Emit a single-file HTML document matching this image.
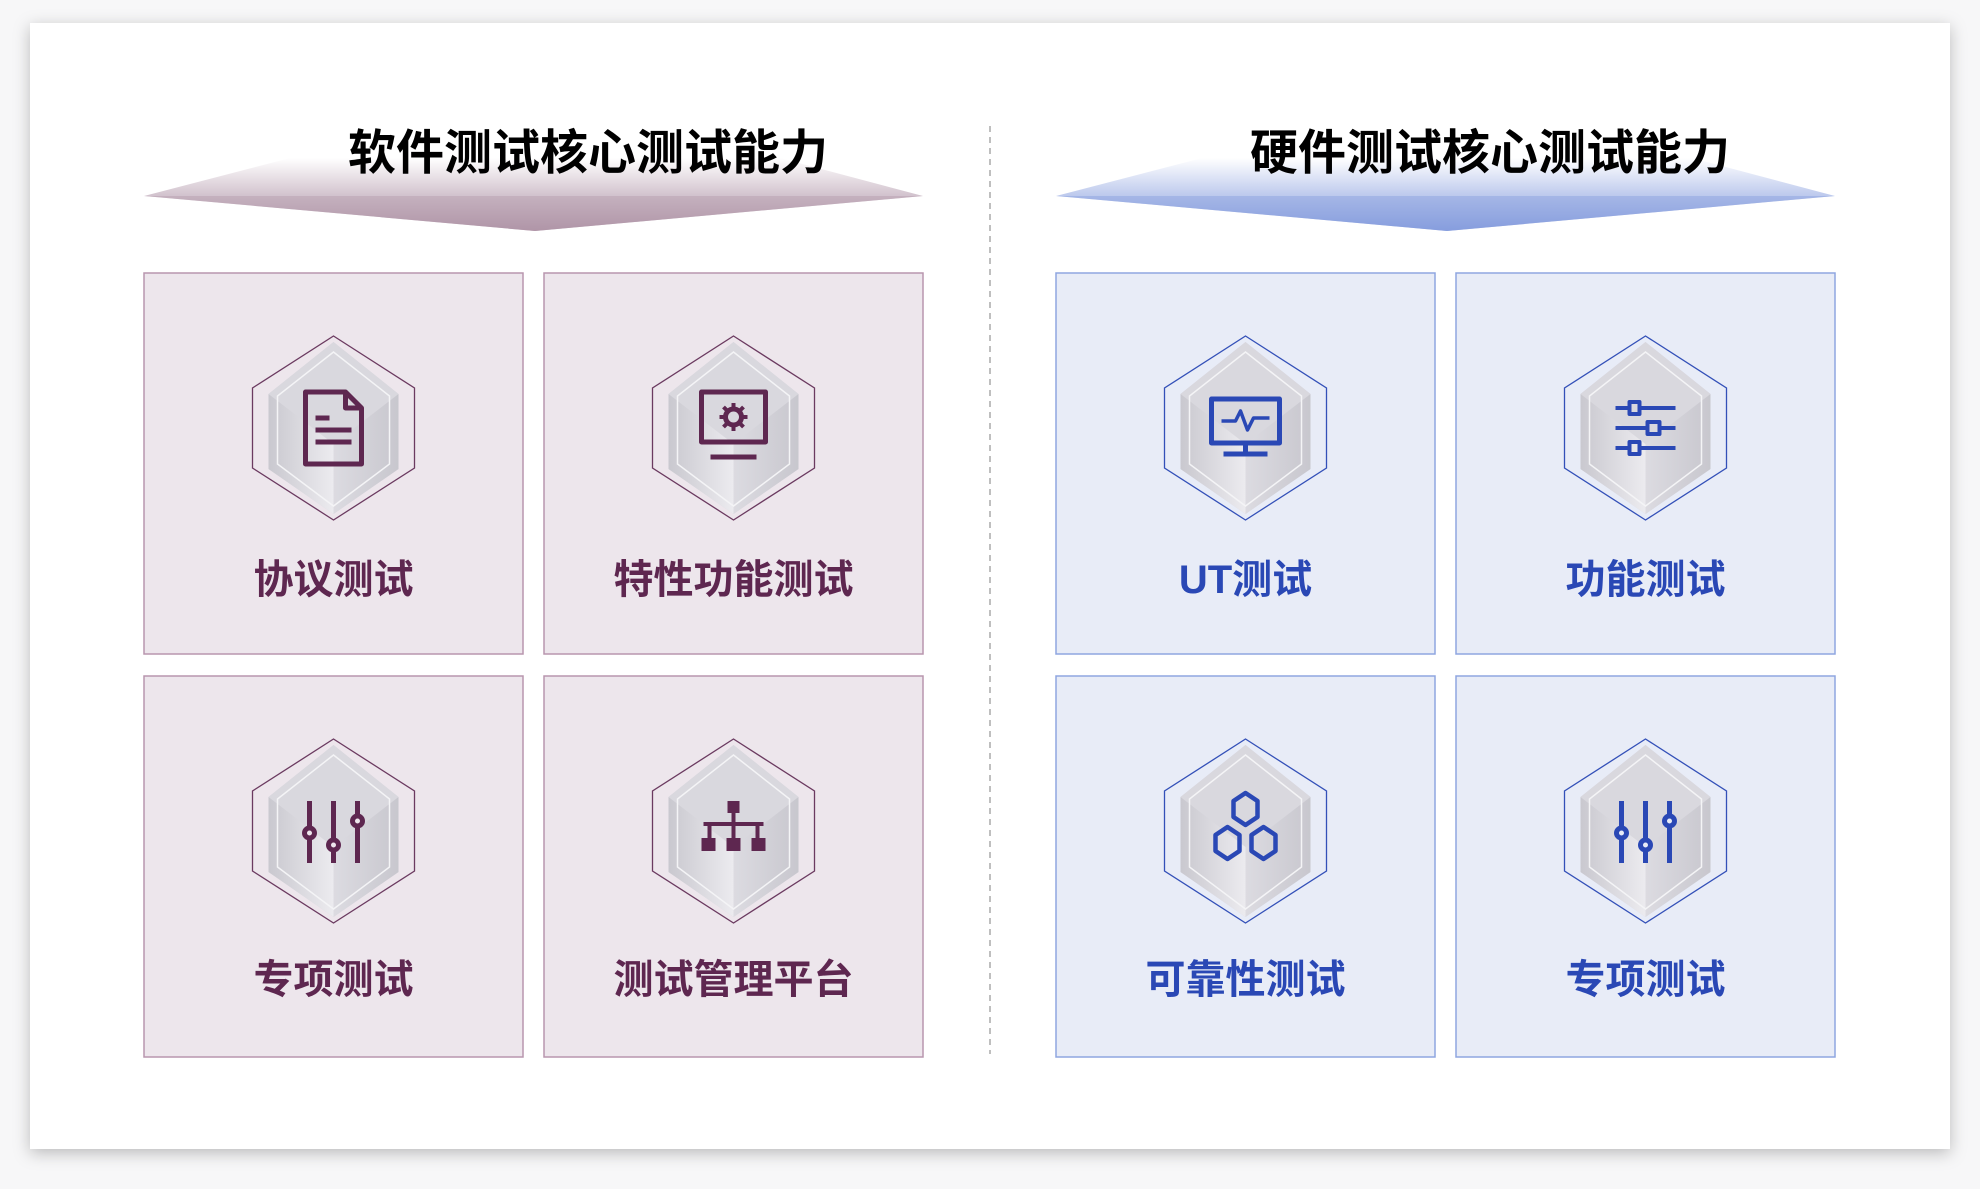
<!DOCTYPE html>
<html><head><meta charset="utf-8"><style>
html,body{margin:0;padding:0;background:#f7f7f8;}
body{width:1980px;height:1184px;overflow:hidden;font-family:"Liberation Sans","Noto Sans CJK SC",sans-serif;}
svg text{font-family:"Liberation Sans","Noto Sans CJK SC",sans-serif;font-weight:bold;}
</style></head><body>
<svg width="1980" height="1184" viewBox="0 0 1980 1184" xmlns="http://www.w3.org/2000/svg">
<defs>
<filter id="sh" x="-5%" y="-5%" width="110%" height="110%"><feDropShadow dx="0" dy="4" stdDeviation="8" flood-color="#000" flood-opacity="0.25"/></filter>
<linearGradient id="bp" x1="0" y1="0" x2="0" y2="1"><stop offset="0" stop-color="#fff"/><stop offset="1" stop-color="#a88a9f"/></linearGradient>
<linearGradient id="bb" x1="0" y1="0" x2="0" y2="1"><stop offset="0" stop-color="#fff"/><stop offset="1" stop-color="#7f97dc"/></linearGradient>
<linearGradient id="cl" x1="0" y1="0" x2="1" y2="0"><stop offset="0" stop-color="#c9c8cf"/><stop offset="1" stop-color="#ecebef"/></linearGradient>
<linearGradient id="cr" x1="0" y1="0" x2="1" y2="0"><stop offset="0" stop-color="#dcdbe1"/><stop offset="1" stop-color="#c8c7ce"/></linearGradient>
<g id="cube">
<polygon points="0,-72 65,-20 65,55 0,100 -65,55 -65,-20" fill="#d5d4da" opacity="0.9" transform="translate(0,-14)"/>
<polygon points="-65,-34 0,-86 65,-34 0,16" fill="#d9d8de"/>
<polygon points="-65,-34 0,16 0,86 -65,41" fill="url(#cl)"/>
<polygon points="65,-34 0,16 0,86 65,41" fill="url(#cr)"/>
<polygon points="0,-76 56,-32 56,36 0,78 -56,36 -56,-32" fill="none" stroke="#f4f4f6" stroke-width="1.5"/>
</g>
</defs>
<rect x="30" y="23" width="1920" height="1126" fill="#fff" filter="url(#sh)"/>
<line x1="990" y1="126" x2="990" y2="1054" stroke="#aaa" stroke-width="1.5" stroke-dasharray="6,5"/>
<polygon points="144,196 290,158 780,158 923,196 535,231" fill="url(#bp)"/>
<polygon points="144,196 923,196 535,231" fill="#b79fb0" opacity="0.5"/>
<polygon points="1056,196 1202,158 1692,158 1835,196 1447,231" fill="url(#bb)"/>
<polygon points="1056,196 1835,196 1447,231" fill="#8ea3e0" opacity="0.5"/>
<text x="588" y="169" font-size="48" text-anchor="middle" fill="#000">软件测试核心测试能力</text>
<text x="1490" y="169" font-size="48" text-anchor="middle" fill="#000">硬件测试核心测试能力</text>
<g fill="#ede6ec" stroke="#b896ae" stroke-width="1.5">
<rect x="144" y="273" width="379" height="381"/><rect x="544" y="273" width="379" height="381"/>
<rect x="144" y="676" width="379" height="381"/><rect x="544" y="676" width="379" height="381"/>
</g>
<g fill="#e8ecf7" stroke="#8fa6e0" stroke-width="1.5">
<rect x="1056" y="273" width="379" height="381"/><rect x="1456" y="273" width="379" height="381"/>
<rect x="1056" y="676" width="379" height="381"/><rect x="1456" y="676" width="379" height="381"/>
</g>
<g fill="none" stroke="#6b3a60" stroke-width="1.3">
<polygon transform="translate(333.5,428)" points="0,-92 81,-40 81,40 0,92 -81,40 -81,-40"/>
<polygon transform="translate(733.5,428)" points="0,-92 81,-40 81,40 0,92 -81,40 -81,-40"/>
<polygon transform="translate(333.5,831)" points="0,-92 81,-40 81,40 0,92 -81,40 -81,-40"/>
<polygon transform="translate(733.5,831)" points="0,-92 81,-40 81,40 0,92 -81,40 -81,-40"/>
</g>
<g fill="none" stroke="#3350b8" stroke-width="1.3">
<polygon transform="translate(1245.5,428)" points="0,-92 81,-40 81,40 0,92 -81,40 -81,-40"/>
<polygon transform="translate(1645.5,428)" points="0,-92 81,-40 81,40 0,92 -81,40 -81,-40"/>
<polygon transform="translate(1245.5,831)" points="0,-92 81,-40 81,40 0,92 -81,40 -81,-40"/>
<polygon transform="translate(1645.5,831)" points="0,-92 81,-40 81,40 0,92 -81,40 -81,-40"/>
</g>
<use href="#cube" x="333.5" y="428"/><use href="#cube" x="733.5" y="428"/>
<use href="#cube" x="333.5" y="831"/><use href="#cube" x="733.5" y="831"/>
<use href="#cube" x="1245.5" y="428"/><use href="#cube" x="1645.5" y="428"/>
<use href="#cube" x="1245.5" y="831"/><use href="#cube" x="1645.5" y="831"/>
<g fill="none" stroke="#5e2750" stroke-width="5" stroke-linejoin="round" stroke-linecap="butt">
<g transform="translate(333.5,428)">
<path d="M-28,-36 H12 L28,-20 V36 H-28 Z"/><path d="M12,-36 V-20 H28"/>
<path d="M-18,-10 H-4 M-18,2 H18 M-18,14 H18"/>
</g>
<g transform="translate(733.5,428)">
<rect x="-32" y="-36" width="64" height="50"/><path d="M-23,29 H23"/>
<circle cx="0" cy="-11" r="8"/>
<path d="M0,-25 V-20 M0,-2 V3 M-14,-11 H-9 M9,-11 H14 M-10,-21 L-6,-17 M6,-5 L10,-1 M10,-21 L6,-17 M-6,-5 L-10,-1" stroke-width="4"/>
</g>
<g transform="translate(333.5,831)">
<path d="M-24,-30 V32 M0,-30 V32 M24,-30 V32"/>
<circle cx="-24" cy="2" r="5" fill="#ede6ec"/><circle cx="0" cy="14" r="5" fill="#ede6ec"/><circle cx="24" cy="-10" r="5" fill="#ede6ec"/>
</g>
<g transform="translate(733.5,831)" fill="#5e2750" stroke="none">
<rect x="-6" y="-30" width="12" height="12"/><rect x="-2" y="-18" width="4" height="10"/>
<rect x="-30" y="-9" width="60" height="4"/><rect x="-26" y="-5" width="4" height="12"/><rect x="-2" y="-5" width="4" height="12"/><rect x="22" y="-5" width="4" height="12"/>
<rect x="-32" y="7" width="14" height="13"/><rect x="-7" y="7" width="14" height="13"/><rect x="18" y="7" width="14" height="13"/>
</g>
</g>
<g fill="none" stroke="#2a48b5" stroke-width="5" stroke-linejoin="round">
<g transform="translate(1245.5,428)">
<rect x="-34" y="-29" width="68" height="44"/><path d="M0,15 V24 M-22,26 H22"/>
<path d="M-24,-7 H-10 L-5,-17 L2,2 L8,-10 H24" stroke-width="3.5"/>
</g>
<g transform="translate(1645.5,428)" stroke-width="4">
<path d="M-30,-20 H-16 M-6,-20 H30 M-30,0 H2 M14,0 H30 M-30,20 H-16 M-6,20 H30"/>
<rect x="-16" y="-26" width="10" height="12"/><rect x="2" y="-6" width="12" height="12"/><rect x="-16" y="14" width="10" height="12"/>
</g>
<g transform="translate(1245.5,831)" stroke-width="4.5">
<polygon points="0,-38 12,-30 12,-14 0,-6 -12,-14 -12,-30"/>
<polygon points="-18,-4 -6,4 -6,20 -18,28 -30,20 -30,4"/>
<polygon points="18,-4 30,4 30,20 18,28 6,20 6,4"/>
</g>
<g transform="translate(1645.5,831)">
<path d="M-24,-30 V32 M0,-30 V32 M24,-30 V32"/>
<circle cx="-24" cy="2" r="5" fill="#e8ecf7"/><circle cx="0" cy="14" r="5" fill="#e8ecf7"/><circle cx="24" cy="-10" r="5" fill="#e8ecf7"/>
</g>
</g>
<g font-size="40" text-anchor="middle" fill="#5e2750">
<text x="333.5" y="593">协议测试</text><text x="733.5" y="593">特性功能测试</text>
<text x="333.5" y="993">专项测试</text><text x="733.5" y="993">测试管理平台</text>
</g>
<g font-size="40" text-anchor="middle" fill="#2a48b5">
<text x="1245.5" y="593">UT测试</text><text x="1645.5" y="593">功能测试</text>
<text x="1245.5" y="993">可靠性测试</text><text x="1645.5" y="993">专项测试</text>
</g>
</svg>
</body></html>
